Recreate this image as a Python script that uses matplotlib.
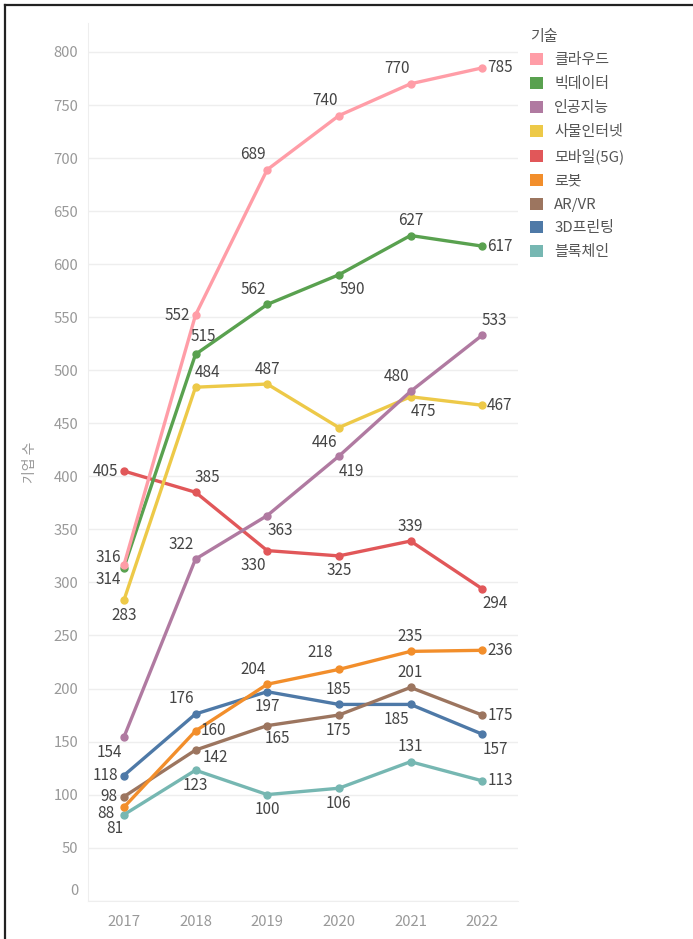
import matplotlib
matplotlib.use("Agg")
import matplotlib.pyplot as plt
from matplotlib.patches import Patch
from matplotlib.lines import Line2D

plt.rcParams['font.family'] = ['Noto Sans CJK KR', 'DejaVu Sans']

years = [2017, 2018, 2019, 2020, 2021, 2022]
tech = ['클라우드', '빅데이터', '인공지능', '사물인터넷', '모바일(5G)', '로봇', 'AR/VR', '3D프린팅', '블록체인']
colors = ['#FF9DA7', '#59A14F', '#B07AA1', '#EDC948', '#E15759', '#F28E2B', '#9C755F', '#4E79A7', '#76B7B2']

cloud = [316, 552, 689, 740, 770, 785]
bigdata = [314, 515, 562, 590, 627, 617]
ai = [154, 322, 363, 419, 480, 533]
iot = [283, 484, 487, 446, 475, 467]
mobile = [405, 385, 330, 325, 339, 294]
robot = [88, 160, 204, 218, 235, 236]
arvr = [98, 142, 165, 175, 201, 175]
printing3d = [118, 176, 197, 185, 185, 157]
blockchain = [81, 123, 100, 106, 131, 113]
series = [cloud, bigdata, ai, iot, mobile, robot, arvr, printing3d, blockchain]

# where each value label sits relative to its point (named spot or pixel offset)
label_pos = [
    [(-16, 8), 'L', 'TL', 'TL', 'TL', 'R'],
    [(-16, -12), (8, 18), 'TL', 'BR', 'T', 'R'],
    ['BL', 'TL', 'BR', 'BR', 'TL', 'TR'],
    ['B', 'TR', 'T', 'BL', 'BR', 'R'],
    ['L', 'TR', 'BL', 'B', 'T', 'BR'],
    [(-18, -6), 'R', 'TL', (-19, 17), 'T', 'R'],
    ['L', (20, -7), (10, -13), 'B', 'T', 'R'],
    ['L', 'TL', 'B', 'T', 'BL', 'BR'],
    [(-9, -14), 'B', 'B', 'B', 'T', 'R'],
]
offsets = {
    'L': (-6, 0, 'right'), 'R': (5, 0, 'left'),
    'T': (0, 15, 'center'), 'B': (0, -15, 'center'),
    'TL': (-14, 15, 'center'), 'TR': (12, 15, 'center'),
    'BL': (-14, -15, 'center'), 'BR': (13, -15, 'center'),
}

fig = plt.figure(figsize=(6.93, 9.39), dpi=100)
ax = fig.add_axes([0.127, 0.0408, 0.6205, 0.9347])

x = list(range(len(years)))
# first legend entry ends up on top
for vals, col, pos in reversed(list(zip(series, colors, label_pos))):
    ax.plot(x, vals, color=col, lw=2.4, marker='o', markersize=5, solid_capstyle='round')
    for xi, v, p in zip(x, vals, pos):
        if isinstance(p, tuple):
            dx, dy, ha = p[0], p[1], 'center'
        else:
            dx, dy, ha = offsets[p]
        ax.annotate(str(v), (xi, v), xytext=(dx, dy), textcoords='offset pixels',
                    ha=ha, va='center', fontsize=11, color='#444444')

ax.set_xlim(-0.5, 5.5)
ax.set_ylim(0, 827.3)
ax.set_xticks(x)
ax.set_xticklabels([str(y) for y in years])
yt = list(range(0, 801, 50))
ax.set_yticks(yt)
ax.set_yticklabels(['' if v == 0 else str(v) for v in yt])
# zero label sits a bit above the baseline
ax.annotate('0', (0, 0), xycoords=ax.get_yaxis_transform(), xytext=(-10, 10),
            textcoords='offset pixels', ha='right', va='center',
            fontsize=10.7, color='#999999')
ax.tick_params(length=0, labelsize=10.7, labelcolor='#999999')
ax.tick_params(axis='y', pad=7)
ax.tick_params(axis='x', pad=10)
ax.grid(axis='y', color='#eeeeee', lw=1)
ax.set_axisbelow(True)
for s in ['top', 'right']:
    ax.spines[s].set_visible(False)
for s in ['left', 'bottom']:
    ax.spines[s].set_color('#eeeeee')
ax.set_ylabel('기업 수', color='#999999', fontsize=10, labelpad=12)

handles = [Patch(facecolor=c, edgecolor='none') for c in colors]
leg = fig.legend(handles, tech, title='기술', loc='upper left',
                 bbox_to_anchor=(0.752, 0.978), frameon=False, fontsize=10.8,
                 title_fontsize=10.8, handlelength=0.85, handleheight=0.85,
                 handletextpad=0.75, labelspacing=0.64, alignment='left',
                 borderaxespad=0.2)
for t in leg.get_texts():
    t.set_color('#555555')
leg.get_title().set_color('#555555')

# frame on the left and top edges
fig.add_artist(Line2D([0.007, 0.007], [0, 0.995], color='#222222', lw=1.6))
fig.add_artist(Line2D([0.007, 1.0], [0.995, 0.995], color='#222222', lw=1.6))

fig.savefig('out.png', dpi=100)
